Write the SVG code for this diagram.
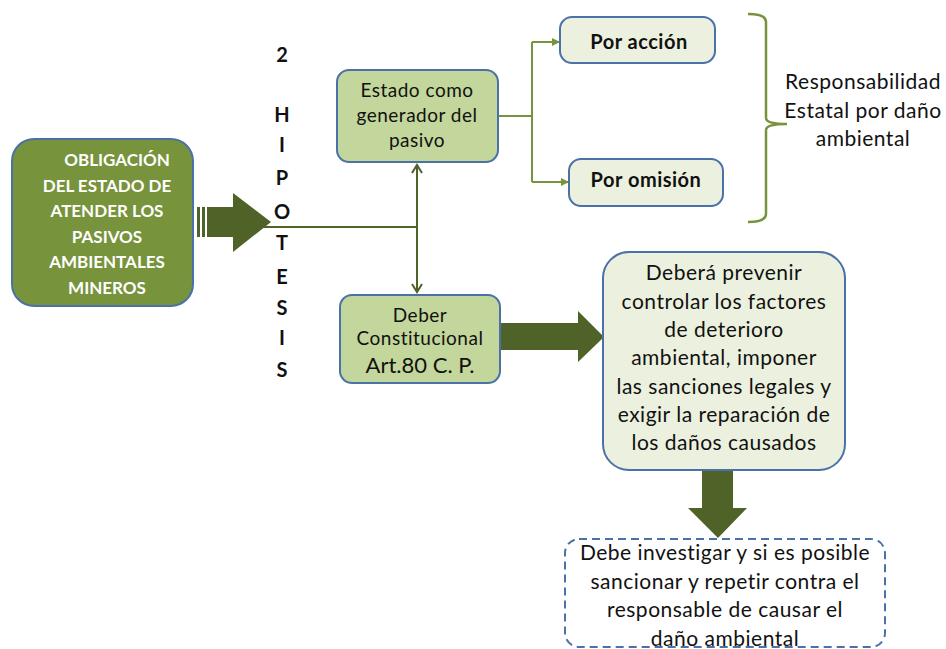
<svg xmlns="http://www.w3.org/2000/svg" width="946" height="649" viewBox="0 0 946 649">
<defs>
<style>
text{font-family:Lato,"Open Sans","Liberation Sans",sans-serif;fill:#111;text-anchor:middle}
.w{fill:#fff;font-weight:bold;font-size:17px}
.m{font-size:19px;letter-spacing:0.5px}
.b{font-weight:bold}
.l{font-size:21px;letter-spacing:0.5px}
.c{fill:none;stroke:#77933c;stroke-width:2}
.big{fill:#4f6228}
.n1{fill:#c3d69b;stroke:#4a72a8;stroke-width:2}
.n2{fill:#ebf1de;stroke:#4a72a8;stroke-width:2}
</style>
<marker id="ah" markerWidth="8" markerHeight="8" refX="7" refY="4" orient="auto" markerUnits="userSpaceOnUse">
<path d="M0,0 L8,4 L0,8 Z" fill="#77933c"/>
</marker>
<marker id="av" markerWidth="12" markerHeight="12" refX="10" refY="6" orient="auto-start-reverse" markerUnits="userSpaceOnUse">
<path d="M2,1 L10,6 L2,11" fill="none" stroke="#4f6228" stroke-width="2"/>
</marker>
</defs>
<rect width="946" height="649" fill="#fff"/>

<g id="connectors">
<path class="big" d="M197,207 H233 V193 L271,222 L233,252 V237 H197 Z"/>
<rect x="200" y="207" width="2" height="30" fill="#fff"/>
<rect x="205" y="207" width="2" height="30" fill="#fff"/>
<path d="M262,227 H417" stroke="#4f6228" stroke-width="2" fill="none"/>
<path d="M417,165 V292" stroke="#4f6228" stroke-width="2" fill="none" marker-start="url(#av)" marker-end="url(#av)"/>
<path class="c" d="M498,116 H532"/>
<path class="c" d="M532,42 V182"/>
<path class="c" d="M532,42 H559" marker-end="url(#ah)"/>
<path class="c" d="M532,182 H568" marker-end="url(#ah)"/>
<path class="big" d="M500,323 H578 V311 L604,337 L578,362 V350 H500 Z"/>
<path class="big" d="M702,470 H733 V508 H747 L718,538 L688,508 H702 Z"/>
</g>

<g id="brace">
<path d="M748,14 Q766,14 766,22 V118 Q766,124 787,124 Q766,124 766,130 V214 Q766,222 748,222" fill="none" stroke="#77933c" stroke-width="2.5"/>
</g>

<g id="n-obligacion">
<rect x="12" y="139" width="181" height="167" rx="22" fill="#77933c" stroke="#4a72a8" stroke-width="2"/>
<text class="w" x="117" y="166">OBLIGACIÓN</text>
<text class="w" x="107" y="192">DEL ESTADO DE</text>
<text class="w" x="107" y="217">ATENDER LOS</text>
<text class="w" x="107" y="243">PASIVOS</text>
<text class="w" x="107" y="268">AMBIENTALES</text>
<text class="w" x="107" y="294">MINEROS</text>
</g>

<g id="hipotesis" style="font-size:20px;font-weight:bold">
<text x="282" y="62">2</text>
<text x="282" y="122">H</text>
<text x="282" y="152">I</text>
<text x="282" y="185">P</text>
<text x="282" y="219">O</text>
<text x="282" y="250">T</text>
<text x="282" y="284">E</text>
<text x="282" y="315">S</text>
<text x="282" y="345">I</text>
<text x="282" y="377">S</text>
</g>

<g id="n-estado">
<rect class="n1" x="337" y="70" width="161" height="92" rx="12"/>
<text class="m" x="417" y="97">Estado como</text>
<text class="m" x="417" y="122">generador del</text>
<text class="m" x="417" y="147">pasivo</text>
</g>

<g id="n-deber">
<rect class="n1" x="340" y="295" width="160" height="88" rx="12"/>
<text class="m" x="420" y="322">Deber</text>
<text class="m" x="420" y="345">Constitucional</text>
<text x="420" y="373" style="font-size:22px">Art.80 C. P.</text>
</g>

<g id="n-accion">
<rect class="n2" x="560" y="17" width="155" height="46" rx="12"/>
<text class="b" x="639" y="49" style="font-size:20px;letter-spacing:0.5px">Por acción</text>
</g>

<g id="n-omision">
<rect class="n2" x="569" y="159" width="154" height="47" rx="12"/>
<text class="b" x="646" y="187" style="font-size:20px;letter-spacing:0.5px">Por omisión</text>
</g>

<g id="resp">
<text class="l" x="863" y="89">Responsabilidad</text>
<text class="l" x="863" y="118">Estatal por daño</text>
<text class="l" x="863" y="146">ambiental</text>
</g>

<g id="n-debera">
<rect class="n2" x="603" y="252" width="242" height="218" rx="26"/>
<text class="l" x="724" y="280">Deberá prevenir</text>
<text class="l" x="724" y="309">controlar los factores</text>
<text class="l" x="724" y="337">de deterioro</text>
<text class="l" x="724" y="365">ambiental, imponer</text>
<text class="l" x="724" y="394">las sanciones legales y</text>
<text class="l" x="724" y="422">exigir la reparación de</text>
<text class="l" x="724" y="450">los daños causados</text>
</g>

<g id="n-investigar">
<rect x="565" y="539" width="320" height="108" rx="14" fill="#fff" stroke="#4a72a8" stroke-width="2" stroke-dasharray="8,5"/>
<text class="l" x="725" y="560">Debe investigar y si es posible</text>
<text class="l" x="725" y="589">sancionar y repetir contra el</text>
<text class="l" x="725" y="617">responsable de causar el</text>
<text class="l" x="725" y="646">daño ambiental</text>
</g>
</svg>
